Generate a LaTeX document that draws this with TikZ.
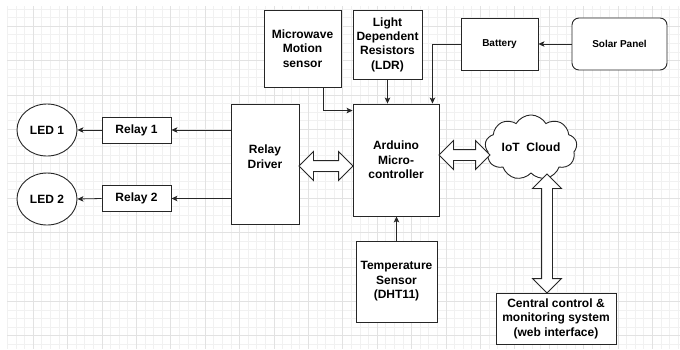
\documentclass[tikz,border=0pt]{standalone}
\usepackage{fontspec}
\setmainfont{Liberation Sans}
\usepackage{tikz}
\usetikzlibrary{calc, arrows.meta, positioning, shapes.geometric, shapes.symbols, shapes.arrows}
\usepackage{xcolor}
\definecolor{gridminor}{HTML}{F1F1F1}
\definecolor{gridmajor}{HTML}{E2E2E2}
\definecolor{edge}{HTML}{262626}
\newcommand{\lbl}{\fontsize{12}{14.4}\selectfont\bfseries}
\newcommand{\lblsmall}{\fontsize{10}{12}\selectfont\bfseries}

\begin{document}
\begin{tikzpicture}[x=1pt, y=-1pt,
    block/.style={draw=edge, line width=0.9pt, fill=white, inner sep=1pt,
                  font=\lbl, align=center},
    led/.style={block, ellipse, minimum width=60pt, minimum height=52pt},
    hollow/.style={draw=edge, line width=0.9pt, fill=white, double arrow,
                   double arrow head extend=9pt, minimum width=28pt, inner sep=5pt},
    arr/.style={-{Stealth[length=6pt, width=5.5pt, inset=1.5pt]}, draw=edge, line width=0.8pt}
  ]
    \useasboundingbox (0,0) rectangle (680,349);
    \fill[white] (0,0) rectangle (680,349);

    % background grid
    \begin{scope}
      \clip (7,6) rectangle (680,349);
      \foreach \k in {0,...,80} \draw[gridminor, line width=0.6pt] ({-1.4+8.6*\k},0) -- ++(0,349);
      \foreach \k in {0,...,41} \draw[gridminor, line width=0.6pt] (0,{-8.4+8.6*\k}) -- ++(680,0);
      \foreach \k in {0,...,20} \draw[gridmajor, line width=0.6pt] ({-1.4+34.4*\k},0) -- ++(0,349);
      \foreach \k in {0,...,11} \draw[gridmajor, line width=0.6pt] (0,{-8.4+34.4*\k}) -- ++(680,0);
    \end{scope}

    % sensors and power
    \node[block, minimum width=77pt, minimum height=77pt] (mws) at (302.5,48.5) {Microwave\\Motion\\sensor};
    \node[block, minimum width=69pt, minimum height=69pt] (ldr) at (387.5,44.5) {Light\\Dependent\\Resistors\\(LDR)};
    \node[block, font=\lblsmall, minimum width=77pt, minimum height=52pt] (bat) at (499.5,44) {Battery};
    \node[block, font=\lblsmall, rounded corners=7pt, minimum width=95pt, minimum height=52pt] (sol) at (619.5,44) {Solar Panel};

    % outputs
    \node[led] (led1) at (47,130) {LED 1};
    \node[led] (led2) at (47,199) {LED 2};
    \node[block, minimum width=69pt, minimum height=26pt] (rl1) at (136.5,130) {Relay 1};
    \node[block, minimum width=69pt, minimum height=26pt] (rl2) at (136.5,198.5) {Relay 2};
    \node[block, minimum width=68pt, minimum height=120pt] (drv) at (265,164) {Relay\\Driver\\\mbox{}};

    % controller and network
    \node[block, minimum width=86pt, minimum height=112pt] (ard) at (396,160) {Arduino\\Micro-\\controller};
    \node[block, cloud, cloud puffs=9, cloud puff arc=120, aspect=1.6,
          minimum width=92pt, minimum height=59pt, inner sep=0pt] (cld) at (531,147.5) {IoT\ \ Cloud};
    \node[block, minimum width=81pt, minimum height=81pt] (tmp) at (396.5,281.5) {Temperature\\Sensor\\(DHT11)};
    \node[block, minimum width=120pt, minimum height=51pt] (ctl) at (556,318.5) {Central control \&\\monitoring system\\(web interface)};

    % signal lines
    \draw[arr] (drv.west |- rl1.east) -- (rl1.east);
    \draw[arr] (rl1.west) -- (led1.east);
    \draw[arr] (drv.west |- rl2.east) -- (rl2.east);
    \draw[arr] (rl2.west) -- (led2.east);
    \draw[arr] ([xshift=20.5pt]mws.south) |- ([yshift=-7pt]ard.north west);
    \draw[arr] (ldr.south) -- (ldr.south |- ard.north);
    \draw[arr] (bat.west) -| ([xshift=-7pt]ard.north east);
    \draw[arr] (sol.west) -- (bat.east);
    \draw[arr] (tmp.north) -- (tmp.north |- ard.south);

    % data links
    \node[hollow, minimum height=54pt] (lnk1) at (326,166) {};
    \node[hollow, minimum height=51pt] (lnk2) at (464.5,155) {};
    \node[hollow, minimum height=119pt, rotate=90] (lnk3) at (547,233.5) {};
  \end{tikzpicture}
\end{document}
